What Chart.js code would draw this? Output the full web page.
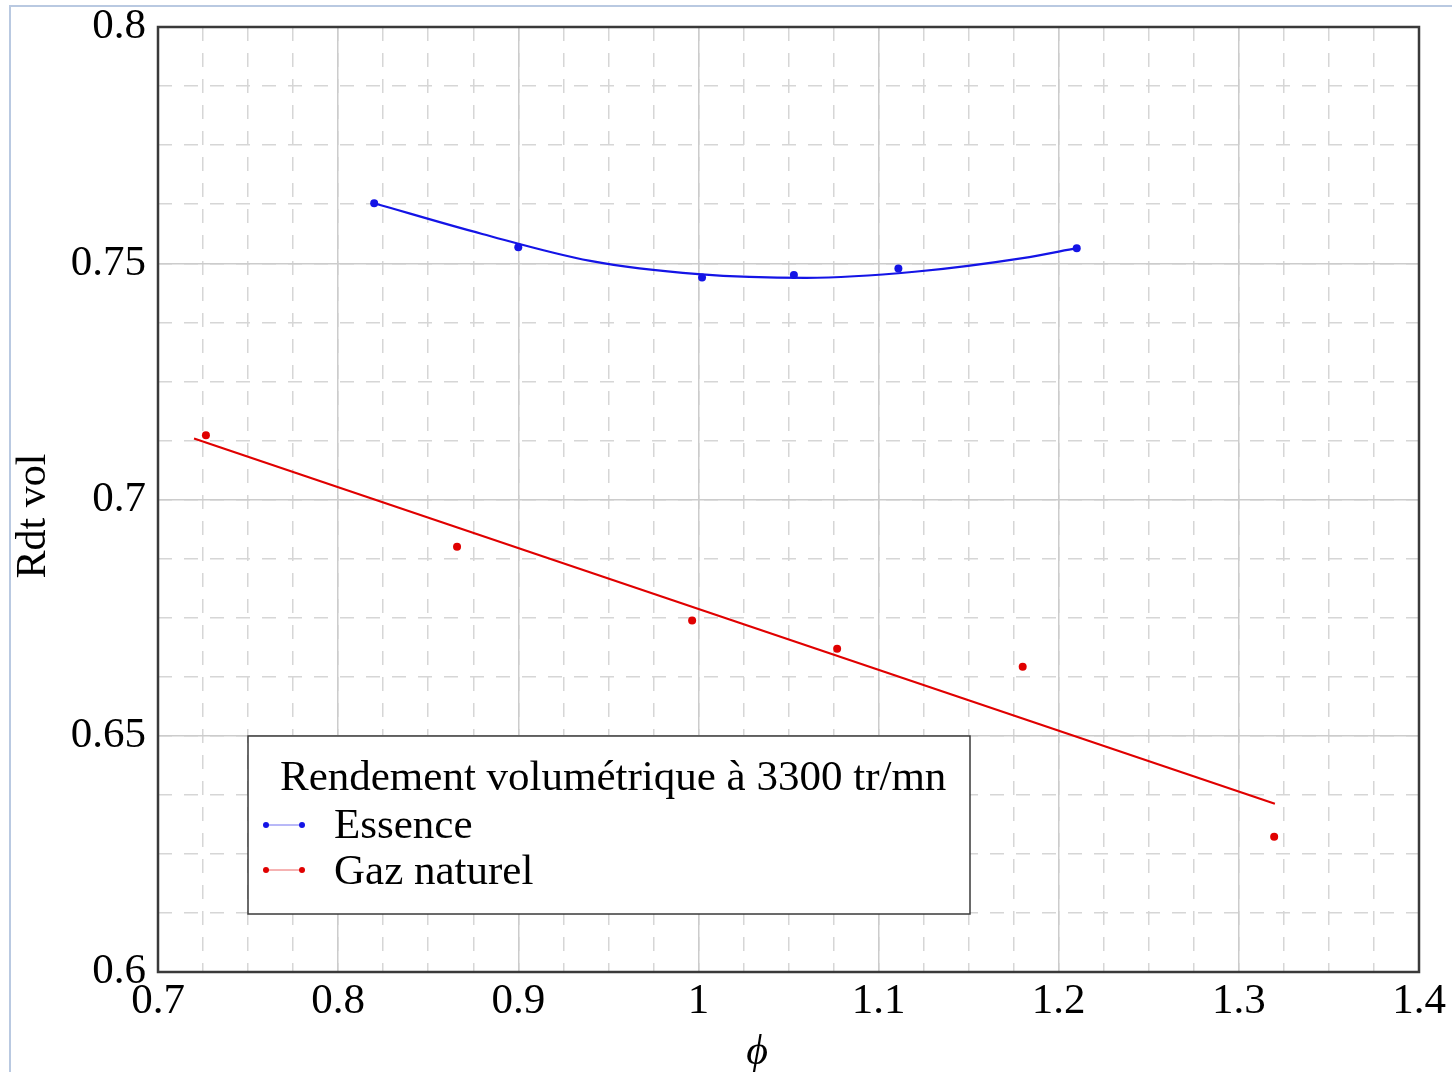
<!DOCTYPE html>
<html>
<head>
  <meta charset="UTF-8"/>
  <title>Rendement volumétrique à 3300 tr/mn</title>
  <style>
    body { margin: 0; background: #fff; }
    #wrap { position: relative; width: 1452px; height: 1072px; overflow: hidden; }
    #frame { position: absolute; left: 9px; top: 5px; width: 1460px; height: 1080px;
             border-left: 2px solid #b9c9e1; border-top: 2px solid #b9c9e1; pointer-events: none; }
  </style>
  <script src="https://cdn.jsdelivr.net/npm/chart.js"></script>
</head>
<body>
<div id="wrap">
  <canvas id="myChart"></canvas>
  <div id="frame"></div>
</div>
<script>
  // Données
  const essencePhi = [0.82, 0.90, 1.002, 1.053, 1.111, 1.210];
  const essenceRdt = [0.7627, 0.7534, 0.7470, 0.7475, 0.7489, 0.7532];
  // courbe de tendance (polynôme) Essence
  const essenceFitPhi = [0.82, 0.88, 0.94, 1.00, 1.06, 1.12, 1.18, 1.21];
  const essenceFitRdt = [0.7627, 0.7562, 0.7505, 0.7477, 0.7469, 0.7482, 0.7511, 0.7532];

  const gazPhi = [0.7266, 0.866, 0.9965, 1.077, 1.180, 1.3196];
  const gazRdt = [0.7136, 0.6900, 0.6744, 0.6684, 0.6646, 0.6286];
  // droite de tendance Gaz naturel
  const gazFitPhi = [0.72, 1.32];
  const gazFitRdt = [0.7129, 0.6356];

  const legendTitle = 'Rendement volumétrique à 3300 tr/mn';
  const xTitle = 'ϕ';
  const yTitle = 'Rdt vol';

  const BLUE = '#1414e6';
  const RED = '#e00000';
  const SERIF = '"Liberation Serif", "DejaVu Serif", serif';

  function pts(xs, ys) {
    return xs.map((x, i) => ({ x: x, y: ys[i] }));
  }
  function fmt(v) {
    return String(+v.toFixed(3));
  }

  // cadre du tracé, titres des axes et légende
  const decor = {
    id: 'decor',
    afterDraw(chart) {
      const ctx = chart.ctx;
      const a = chart.chartArea;
      ctx.save();
      ctx.strokeStyle = '#3a3a3a';
      ctx.lineWidth = 2.5;
      ctx.strokeRect(a.left, a.top, a.right - a.left, a.bottom - a.top);

      // titres des axes
      ctx.fillStyle = '#000';
      ctx.textAlign = 'center';
      ctx.textBaseline = 'middle';
      ctx.font = 'italic 42px ' + SERIF;
      ctx.fillText(xTitle, 757, 1053);
      ctx.save();
      ctx.translate(34, 516);
      ctx.rotate(-Math.PI / 2);
      ctx.font = '42px ' + SERIF;
      ctx.fillText(yTitle, 0, 0);
      ctx.restore();

      // légende
      const bx = 248, by = 736, bw = 722, bh = 178;
      ctx.fillStyle = '#fff';
      ctx.fillRect(bx, by, bw, bh);
      ctx.strokeStyle = '#3a3a3a';
      ctx.lineWidth = 1.5;
      ctx.strokeRect(bx, by, bw, bh);
      ctx.fillStyle = '#000';
      ctx.textAlign = 'left';
      ctx.textBaseline = 'alphabetic';
      ctx.font = '43px ' + SERIF;
      ctx.fillText(legendTitle, 280, 790);
      const entries = [
        { ds: chart.data.datasets[0], y: 825, base: 838 },
        { ds: chart.data.datasets[2], y: 870, base: 884 }
      ];
      entries.forEach(e => {
        const c = e.ds.borderColor;
        ctx.strokeStyle = c;
        ctx.globalAlpha = 0.6;
        ctx.lineWidth = 1;
        ctx.beginPath();
        ctx.moveTo(266, e.y);
        ctx.lineTo(302, e.y);
        ctx.stroke();
        ctx.globalAlpha = 1;
        ctx.fillStyle = c;
        [266, 302].forEach(px => {
          ctx.beginPath();
          ctx.arc(px, e.y, 3, 0, Math.PI * 2);
          ctx.fill();
        });
        ctx.fillStyle = '#000';
        ctx.fillText(e.ds.label, 334, e.base);
      });
      ctx.restore();
    }
  };

  const ctx = document.getElementById('myChart').getContext('2d');
  const chart = new Chart(ctx, {
    type: 'scatter',
    data: {
      datasets: [
        { label: 'Essence', data: pts(essencePhi, essenceRdt), showLine: false,
          pointRadius: 4, backgroundColor: BLUE, borderColor: BLUE, borderWidth: 0 },
        { label: 'Essence (tendance)', data: pts(essenceFitPhi, essenceFitRdt), showLine: true,
          pointRadius: 0, borderColor: BLUE, borderWidth: 2.2, cubicInterpolationMode: 'monotone' },
        { label: 'Gaz naturel', data: pts(gazPhi, gazRdt), showLine: false,
          pointRadius: 4, backgroundColor: RED, borderColor: RED, borderWidth: 0 },
        { label: 'Gaz naturel (tendance)', data: pts(gazFitPhi, gazFitRdt), showLine: true,
          pointRadius: 0, borderColor: RED, borderWidth: 2.2 }
      ]
    },
    options: {
      responsive: true,
      maintainAspectRatio: false,
      animation: false,
      layout: { padding: { top: 27, right: 33, left: 0, bottom: 0 } },
      plugins: { legend: { display: false }, tooltip: { enabled: false } },
      scales: {
        xMinor: {
          type: 'linear', axis: 'x', position: 'bottom', min: 0.7, max: 1.4,
          ticks: { display: false, stepSize: 0.025 },
          grid: { color: '#d6d6d6', lineWidth: 1.5, drawTicks: false },
          border: { display: false, dash: [14, 12] },
          afterFit: s => { s.height = 0; }
        },
        yMinor: {
          type: 'linear', axis: 'y', position: 'left', min: 0.6, max: 0.8,
          ticks: { display: false, stepSize: 0.0125 },
          grid: { color: '#d6d6d6', lineWidth: 1.5, drawTicks: false },
          border: { display: false, dash: [14, 12] },
          afterFit: s => { s.width = 0; }
        },
        x: {
          type: 'linear', position: 'bottom', min: 0.7, max: 1.4,
          ticks: { stepSize: 0.1, padding: 4, color: '#000', font: { family: SERIF, size: 43 }, callback: fmt },
          grid: { color: '#cccccc', lineWidth: 1.5, drawTicks: false },
          border: { display: false },
          afterFit: s => { s.height = 100; }
        },
        y: {
          type: 'linear', position: 'left', min: 0.6, max: 0.8,
          ticks: { stepSize: 0.05, padding: 12, color: '#000', font: { family: SERIF, size: 43, lineHeight: 0.6 }, callback: fmt },
          grid: { color: '#cccccc', lineWidth: 1.5, drawTicks: false },
          border: { display: false },
          afterFit: s => { s.width = 158; }
        }
      }
    },
    plugins: [decor]
  });
</script>
</body>
</html>
